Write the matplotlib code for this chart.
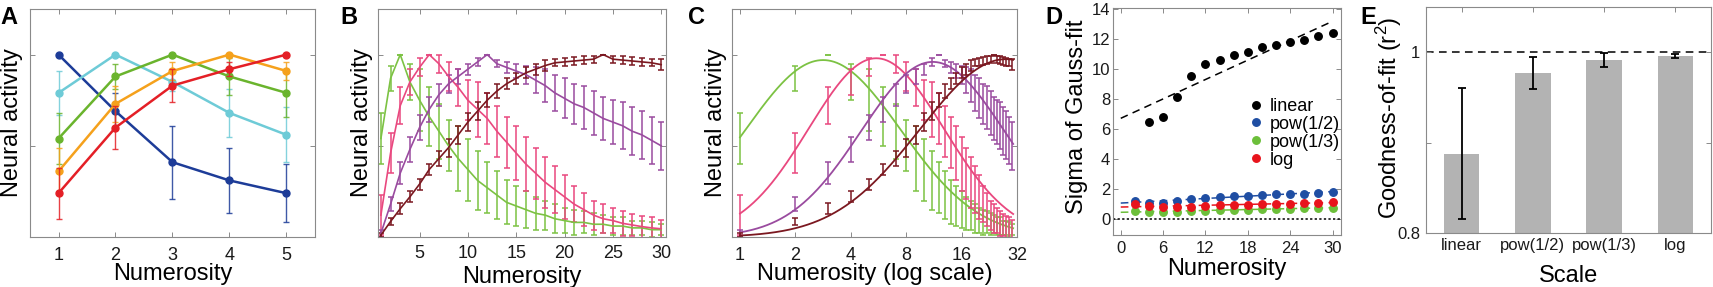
import numpy as np
import matplotlib
matplotlib.use("Agg")
import matplotlib.pyplot as plt

plt.rcParams["font.family"] = ["Liberation Sans", "DejaVu Sans"]
plt.rcParams["mathtext.default"] = "regular"

# ---- panel A: five neurons, numerosity 1..5
a_x = [1, 2, 3, 4, 5]
a_blue = [1.0, 0.69, 0.41, 0.31, 0.24]
a_blue_err = [0.0, 0.10, 0.20, 0.18, 0.16]
a_cyan = [0.79, 1.0, 0.85, 0.68, 0.56]
a_cyan_err = [0.12, 0.0, 0.05, 0.13, 0.15]
a_green = [0.54, 0.88, 1.0, 0.88, 0.79]
a_green_err = [0.14, 0.07, 0.0, 0.10, 0.13]
a_orange = [0.36, 0.73, 0.91, 1.0, 0.91]
a_orange_err = [0.13, 0.10, 0.05, 0.0, 0.05]
a_red = [0.24, 0.60, 0.83, 0.92, 1.0]
a_red_err = [0.14, 0.12, 0.09, 0.04, 0.0]

# ---- panels B/C: four tuning curves, numerosity 1..30
n30 = list(range(1, 31))
b_green = [0.54, 0.87, 1.0, 0.85, 0.75, 0.66, 0.58, 0.50, 0.43, 0.37, 0.31, 0.27, 0.23, 0.19, 0.17,
           0.15, 0.13, 0.12, 0.10, 0.09, 0.08, 0.08, 0.07, 0.07, 0.06, 0.06, 0.05, 0.05, 0.04, 0.04]
b_green_err = [0.14, 0.07, 0.0, 0.10, 0.17, 0.16, 0.15, 0.14, 0.18, 0.17, 0.16, 0.14, 0.13, 0.12, 0.11,
               0.10, 0.09, 0.08, 0.08, 0.07, 0.07, 0.06, 0.06, 0.05, 0.05, 0.05, 0.04, 0.04, 0.04, 0.03]
b_pink = [0.12, 0.46, 0.72, 0.85, 0.93, 1.0, 0.95, 0.88, 0.82, 0.75, 0.70, 0.65, 0.58, 0.52, 0.46,
          0.40, 0.35, 0.30, 0.26, 0.22, 0.18, 0.15, 0.12, 0.10, 0.09, 0.075, 0.066, 0.057, 0.05, 0.045]
b_pink_err = [0.11, 0.11, 0.10, 0.07, 0.05, 0.0, 0.05, 0.08, 0.10, 0.11, 0.15, 0.14, 0.14, 0.14, 0.15,
              0.15, 0.14, 0.14, 0.13, 0.12, 0.10, 0.09, 0.08, 0.08, 0.07, 0.07, 0.06, 0.06, 0.06, 0.05]
b_purple = [0.02, 0.18, 0.35, 0.48, 0.60, 0.70, 0.78, 0.84, 0.88, 0.92, 0.96, 1.0, 0.95, 0.93, 0.91,
            0.89, 0.86, 0.83, 0.79, 0.76, 0.73, 0.71, 0.68, 0.65, 0.63, 0.61, 0.58, 0.56, 0.53, 0.50]
b_purple_err = [0.02, 0.04, 0.06, 0.07, 0.07, 0.07, 0.06, 0.05, 0.04, 0.03, 0.02, 0.0, 0.02, 0.03, 0.04,
                0.05, 0.07, 0.09, 0.10, 0.11, 0.11, 0.12, 0.12, 0.12, 0.12, 0.13, 0.13, 0.13, 0.13, 0.13]
b_maroon = [0.01, 0.085, 0.155, 0.22, 0.29, 0.37, 0.43, 0.49, 0.56, 0.63, 0.69, 0.75, 0.80, 0.84, 0.87,
            0.90, 0.92, 0.94, 0.955, 0.96, 0.965, 0.97, 0.975, 1.0, 0.975, 0.97, 0.965, 0.96, 0.955, 0.945]
b_maroon_err = [0.01, 0.02, 0.03, 0.03, 0.03, 0.03, 0.04, 0.05, 0.05, 0.05, 0.05, 0.04, 0.04, 0.03, 0.03,
                0.03, 0.03, 0.03, 0.02, 0.02, 0.02, 0.02, 0.02, 0.0, 0.02, 0.02, 0.02, 0.02, 0.02, 0.03]

# gaussian fits on log2 scale (centre, width, peak) for green, pink, purple, maroon
fit_center = [1.5, 2.46, 3.48, 4.8]
fit_width = [1.4, 1.22, 1.29, 1.55]
fit_peak = [0.97, 0.98, 0.96, 0.975]

# ---- panel D: sigma of gauss fit
d_x_lin = [4, 6, 8, 10, 12, 14, 16, 18, 20, 22, 24, 26, 28, 30]
d_linear = [6.45, 6.8, 8.1, 9.5, 10.3, 10.6, 10.96, 11.1, 11.45, 11.6, 11.8, 11.95, 12.2, 12.4]
d_x = [2, 4, 6, 8, 10, 12, 14, 16, 18, 20, 22, 24, 26, 28, 30]
d_pow2 = [1.18, 1.07, 1.07, 1.18, 1.29, 1.40, 1.44, 1.49, 1.53, 1.58, 1.62, 1.64, 1.67, 1.71, 1.78]
d_pow3 = [0.51, 0.47, 0.44, 0.47, 0.49, 0.53, 0.56, 0.58, 0.60, 0.62, 0.64, 0.67, 0.69, 0.71, 0.73]
d_log = [0.96, 0.84, 0.78, 0.80, 0.78, 0.84, 0.89, 0.91, 0.93, 0.96, 0.98, 1.00, 1.04, 1.07, 1.13]

# ---- panel E: goodness of fit
e_scales = ["linear", "pow(1/2)", "pow(1/3)", "log"]
e_r2 = [0.888, 0.977, 0.9915, 0.9963]
e_err = [0.073, 0.018, 0.008, 0.002]

W, H = 1713, 287
fig = plt.figure(figsize=(W / 100, H / 100), dpi=100)

spine_c = "#8a8a8a"
LBL = 17


def style(ax, xpad=8, ypad=3, size=13):
    for s in ax.spines.values():
        s.set_color(spine_c)
        s.set_linewidth(0.8)
    ax.tick_params(direction="in", top=True, right=True, length=3.5, width=0.7,
                   color=spine_c, labelsize=size, labelcolor="#1a1a1a")
    ax.tick_params(axis="x", pad=xpad)
    ax.tick_params(axis="y", pad=ypad)


def box(l, b, w, h):
    return fig.add_axes([l / W, (H - b) / H, w / W, h / H])


# A
ax1 = box(30, 237, 285, 228)
cols_a = ["#1d3c98", "#6ecbd7", "#6ab42d", "#f5a11c", "#e41f26"]
for vals, errs, c in zip([a_blue, a_cyan, a_green, a_orange, a_red],
                         [a_blue_err, a_cyan_err, a_green_err, a_orange_err, a_red_err], cols_a):
    ax1.errorbar(a_x, vals, yerr=errs, fmt="none", ecolor=c, elinewidth=1, capsize=2, capthick=1, alpha=0.85)
    ax1.plot(a_x, vals, "-o", color=c, lw=1.8, ms=5)
ax1.set_xlim(0.5, 5.5)
ax1.set_ylim(0, 1.25)
ax1.set_xticks(a_x)
ax1.set_yticks([0.5, 1.0])
ax1.set_yticklabels([])
style(ax1, xpad=7)
ax1.set_xlabel("Numerosity", fontsize=LBL)
ax1.xaxis.set_label_coords(0.5, -0.114)
ax1.set_ylabel("Neural activity", fontsize=LBL)
ax1.yaxis.set_label_coords(-0.025, 0.5)

cols_b = ["#7cc243", "#e9487f", "#9a4b9f", "#7b1820"]
b_means = [b_green, b_pink, b_purple, b_maroon]
b_errs = [b_green_err, b_pink_err, b_purple_err, b_maroon_err]

# B
ax2 = box(378, 237, 288, 228)
for vals, errs, c in zip(b_means, b_errs, cols_b):
    ax2.errorbar(n30, vals, yerr=errs, color=c, lw=1.2, elinewidth=1.1, capsize=2.5, capthick=1.1)
ax2.set_xlim(0.7, 30.5)
ax2.set_ylim(0, 1.25)
ax2.set_xticks([5, 10, 15, 20, 25, 30])
ax2.set_yticks([0.5, 1.0])
ax2.set_yticklabels([])
style(ax2, xpad=6)
ax2.set_xlabel("Numerosity", fontsize=LBL)
ax2.xaxis.set_label_coords(0.5, -0.125)
ax2.set_ylabel("Neural activity", fontsize=LBL)
ax2.yaxis.set_label_coords(-0.017, 0.5)

# C
ax3 = box(732, 237, 285, 228)
ax3.set_xscale("log", base=2)
xs = np.geomspace(1, 30.5, 300)
for vals, errs, c, mu, sd, pk in zip(b_means, b_errs, cols_b, fit_center, fit_width, fit_peak):
    ax3.errorbar(n30, vals, yerr=errs, fmt="none", ecolor=c, elinewidth=1.1, capsize=2.5, capthick=1.1)
    ax3.plot(xs, pk * np.exp(-(np.log2(xs) - mu) ** 2 / (2 * sd ** 2)), color=c, lw=1.3)
ax3.set_xlim(0.905, 32)
ax3.set_ylim(0, 1.25)
ax3.set_xticks([1, 2, 4, 8, 16, 32])
ax3.set_xticklabels(["1", "2", "4", "8", "16", "32"])
ax3.xaxis.set_minor_locator(matplotlib.ticker.NullLocator())
ax3.set_yticks([0.5, 1.0])
ax3.set_yticklabels([])
style(ax3, xpad=7)
ax3.set_xlabel("Numerosity (log scale)", fontsize=LBL)
ax3.xaxis.set_label_coords(0.5, -0.114)
ax3.set_ylabel("Neural activity", fontsize=LBL)
ax3.yaxis.set_label_coords(-0.017, 0.5)

# D
ax4 = box(1113, 235, 228, 226.7)
ax4.axhline(0, color="black", ls=(0, (1.5, 1.5)), lw=1.1)
cols_d = ["black", "#1f4ea3", "#6cbf3a", "#e8141c"]
d_sets = [(d_x_lin, d_linear), (d_x, d_pow2), (d_x, d_pow3), (d_x, d_log)]
for (xv, yv), c in zip(d_sets, cols_d):
    k, b0 = np.polyfit(xv, yv, 1)
    ax4.plot([0, 30], [b0, b0 + 30 * k], color=c, ls=(0, (5, 3.5)), lw=1.1)
for (xv, yv), c, lab in zip(d_sets, cols_d, ["linear", "pow(1/2)", "pow(1/3)", "log"]):
    ax4.plot(xv, yv, "o", color=c, ms=5.4, label=lab)
ax4.set_xlim(-1.1, 31.2)
ax4.set_ylim(-1.1, 14.05)
ax4.set_xticks([0, 6, 12, 18, 24, 30])
ax4.set_yticks(range(0, 15, 2))
style(ax4, xpad=4, ypad=2, size=12)
ax4.set_xlabel("Numerosity", fontsize=LBL)
ax4.xaxis.set_label_coords(0.5, -0.1)
ax4.set_ylabel("Sigma of Gauss-fit", fontsize=LBL)
ax4.yaxis.set_label_coords(-0.11, 0.52)
ax4.legend(loc="upper left", bbox_to_anchor=(0.595, 0.605), frameon=False, fontsize=13,
           handlelength=0.8, handletextpad=0.35, labelspacing=0.05, borderpad=0,
           borderaxespad=0, numpoints=1)

# E
ax5 = box(1426, 233, 285, 225.7)
pos = np.arange(1, len(e_scales) + 1)
ax5.bar(pos, e_r2, width=0.5, color="#b3b3b3", zorder=2)
ax5.errorbar(pos, e_r2, yerr=e_err, fmt="none", ecolor="black", elinewidth=1.3, capsize=3,
             capthick=1.3, zorder=3)
ax5.axhline(1.0, color="black", ls=(0, (5, 3.5)), lw=1.1, zorder=1)
ax5.set_xlim(0.5, 4.5)
ax5.set_ylim(0.8, 1.05)
ax5.set_xticks(pos)
ax5.set_xticklabels(e_scales)
ax5.set_yticks([0.8, 0.9, 1.0])
ax5.set_yticklabels(["0.8", "", "1"])
style(ax5, xpad=3.5, ypad=4, size=12)
ax5.set_xlabel("Scale", fontsize=LBL)
ax5.xaxis.set_label_coords(0.5, -0.142)
ax5.set_ylabel("Goodness-of-fit (r$^2$)", fontsize=LBL)
ax5.yaxis.set_label_coords(-0.078, 0.51)

for x0, t in zip([0, 340, 688, 1045, 1360], "ABCDE"):
    fig.text(x0 / W, 1 - 6 / H, t, fontsize=17, fontweight="bold", va="top", ha="left")

fig.savefig("out.png", dpi=100)
